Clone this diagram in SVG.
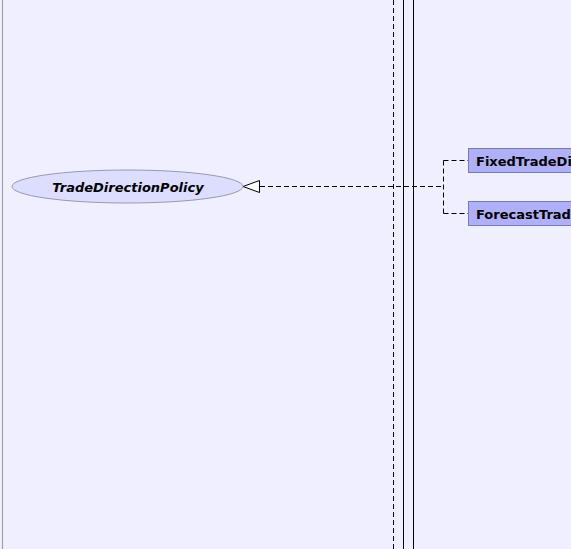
<svg xmlns="http://www.w3.org/2000/svg" width="571" height="549" viewBox="0 0 571 549">
<style>
.dash{fill:none;stroke:#000;stroke-width:1;stroke-dasharray:5,3}
.cls rect{fill:#B0B0F8;stroke:#7777BB;stroke-width:1}
.cls text{font-family:"DejaVu Sans",sans-serif;font-weight:bold;font-size:13px;fill:#000}
</style>
<rect x="0" y="0" width="571" height="549" fill="#EFEFFF"/>
<line x1="2.5" y1="0" x2="2.5" y2="549" stroke="#999999" stroke-width="1"/>
<line x1="393.5" y1="0" x2="393.5" y2="549" class="dash"/>
<line x1="403.5" y1="0" x2="403.5" y2="549" stroke="#000" stroke-width="1"/>
<line x1="413.5" y1="0" x2="413.5" y2="549" stroke="#000" stroke-width="1"/>
<g id="connectors">
<path class="dash" d="M260,186.5 H443.5 M443.5,160.5 V213.5 M443.5,160.5 H468 M443.5,213.5 H468"/>
<polygon points="243,186.5 259.5,180.5 259.5,192.5" fill="#FFFFFF" stroke="#000" stroke-width="1"/>
</g>
<g id="TradeDirectionPolicy">
<ellipse cx="127.5" cy="186.5" rx="115.5" ry="16.5" fill="#DDDDFF" stroke="#9999AA" stroke-width="1"/>
<text x="128" y="191.5" text-anchor="middle" font-family="DejaVu Sans,sans-serif" font-weight="bold" font-style="italic" font-size="13" fill="#000">TradeDirectionPolicy</text>
</g>
<g id="FixedTradeDirectionPolicy" class="cls">
<rect x="468.5" y="148.5" width="120" height="24"/>
<text x="476" y="165.5">FixedTradeDirectionPolicy</text>
</g>
<g id="ForecastTradeDirectionPolicy" class="cls">
<rect x="468.5" y="201.5" width="120" height="24"/>
<text x="476" y="218.5">ForecastTradeDirectionPolicy</text>
</g>
</svg>
